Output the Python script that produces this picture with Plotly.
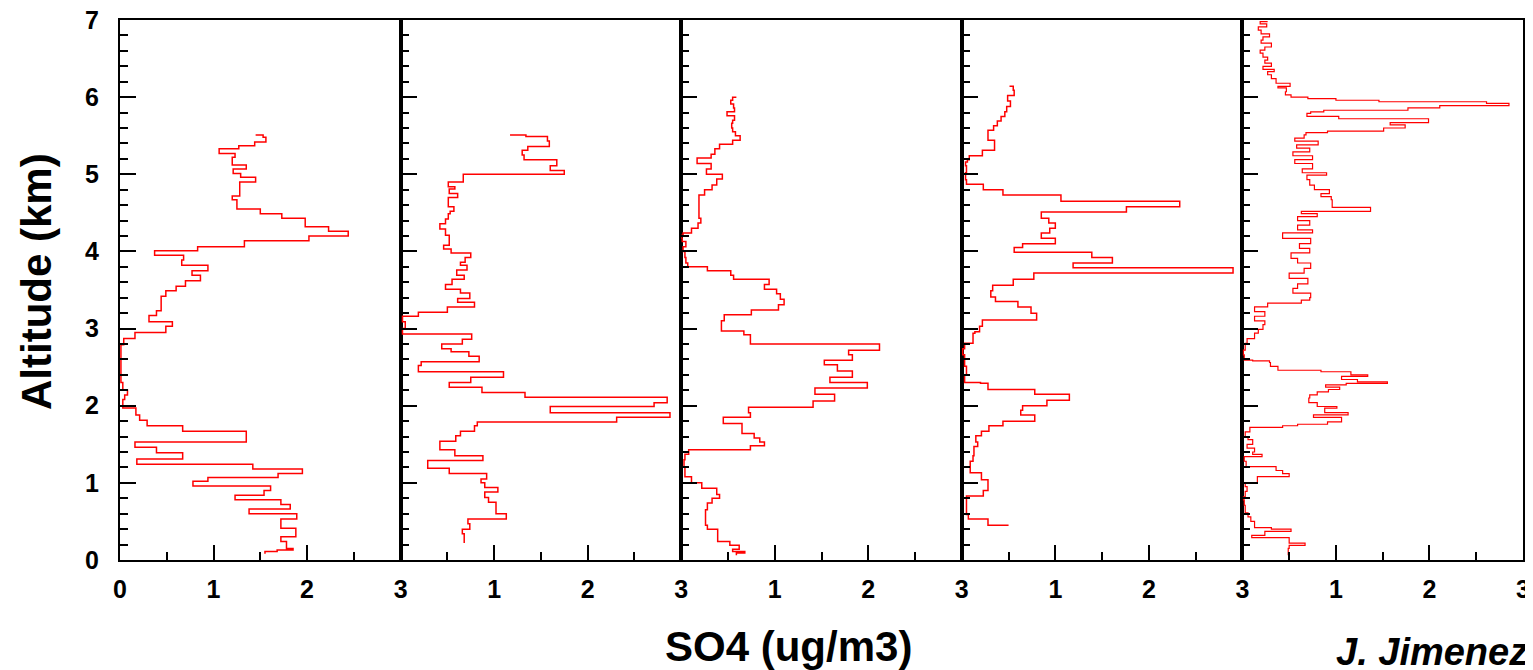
import plotly.graph_objects as go
from plotly.subplots import make_subplots

# SO4 vertical profiles, 5 flights. altitude (km) where each step starts, SO4 (ug/m3)
p1_alt = [0.08, 0.11, 0.13, 0.15, 0.24, 0.30, 0.41, 0.53, 0.60, 0.66, 0.72, 0.78, 0.84, 0.90, 0.96,
          1.02, 1.07, 1.12, 1.18, 1.24, 1.31, 1.39, 1.46, 1.53, 1.67, 1.74, 1.81, 1.88, 1.97, 2.08,
          2.14, 2.20, 2.30, 2.79, 2.87, 2.95, 3.03, 3.09, 3.17, 3.23, 3.42, 3.49, 3.55, 3.62, 3.69,
          3.75, 3.82, 3.89, 3.95, 4.01, 4.06, 4.14, 4.20, 4.26, 4.32, 4.43, 4.49, 4.55, 4.67, 4.72,
          4.84, 4.90, 4.96, 5.01, 5.07, 5.12, 5.22, 5.27, 5.33, 5.37, 5.42, 5.48, 5.51]
p1_so4 = [1.55, 1.68, 1.85, 1.78, 1.72, 1.88, 1.72, 1.89, 1.38, 1.82, 1.72, 1.23, 1.54, 1.61, 0.78,
          0.94, 1.69, 1.95, 1.42, 0.18, 0.67, 0.39, 0.16, 1.35, 0.67, 0.29, 0.21, 0.17, 0.03, 0.05,
          0.08, 0.03, 0.01, 0.04, 0.16, 0.49, 0.56, 0.31, 0.39, 0.44, 0.49, 0.60, 0.70, 0.86, 0.77,
          0.94, 0.66, 0.68, 0.37, 0.83, 1.33, 2.02, 2.44, 2.23, 1.98, 1.73, 1.50, 1.25, 1.20, 1.28,
          1.28, 1.45, 1.29, 1.21, 1.35, 1.20, 1.23, 1.06, 1.27, 1.44, 1.56, 1.53, 1.45]

p2_alt = [0.22, 0.34, 0.40, 0.47, 0.53, 0.60, 0.75, 0.81, 0.88, 0.94, 1.00, 1.05, 1.12, 1.19, 1.29,
          1.35, 1.43, 1.54, 1.61, 1.67, 1.74, 1.79, 1.85, 1.91, 1.99, 2.04, 2.11, 2.17, 2.24, 2.30,
          2.37, 2.44, 2.52, 2.57, 2.64, 2.70, 2.74, 2.80, 2.86, 2.93, 3.00, 3.09, 3.16, 3.21, 3.28,
          3.34, 3.39, 3.46, 3.51, 3.57, 3.64, 3.69, 3.76, 3.82, 3.86, 3.92, 3.98, 4.03, 4.08, 4.16,
          4.21, 4.29, 4.36, 4.42, 4.49, 4.52, 4.58, 4.65, 4.70, 4.75, 4.81, 4.84, 4.90, 5.00, 5.05,
          5.11, 5.19, 5.25, 5.31, 5.36, 5.43, 5.49, 5.51]
p2_so4 = [0.68, 0.66, 0.74, 0.72, 1.13, 1.02, 0.94, 0.90, 1.04, 0.90, 0.86, 0.92, 0.52, 0.29, 0.88,
          0.58, 0.42, 0.59, 0.64, 0.79, 0.82, 2.31, 2.88, 1.60, 2.71, 2.85, 1.33, 0.87, 0.52, 0.75,
          1.10, 0.19, 0.22, 0.84, 0.73, 0.54, 0.44, 0.66, 0.76, 0.02, 0.05, 0.02, 0.19, 0.50, 0.79,
          0.61, 0.74, 0.64, 0.48, 0.55, 0.68, 0.60, 0.71, 0.64, 0.69, 0.75, 0.54, 0.46, 0.52, 0.52,
          0.48, 0.42, 0.48, 0.51, 0.53, 0.57, 0.51, 0.51, 0.61, 0.52, 0.58, 0.51, 0.67, 1.75, 1.60,
          1.67, 1.32, 1.30, 1.36, 1.59, 1.57, 1.34, 1.17]

p3_alt = [0.06, 0.09, 0.11, 0.14, 0.19, 0.24, 0.40, 0.45, 0.55, 0.65, 0.74, 0.80, 0.85, 0.93, 1.00,
          1.08, 1.21, 1.30, 1.37, 1.43, 1.48, 1.53, 1.58, 1.64, 1.77, 1.85, 1.91, 1.98, 2.06, 2.15,
          2.23, 2.30, 2.37, 2.45, 2.53, 2.59, 2.66, 2.72, 2.80, 2.92, 2.97, 3.10, 3.18, 3.24, 3.31,
          3.38, 3.45, 3.51, 3.57, 3.64, 3.69, 3.75, 3.80, 3.85, 3.92, 4.00, 4.06, 4.13, 4.17, 4.21,
          4.24, 4.30, 4.37, 4.43, 4.73, 4.80, 4.86, 4.94, 5.00, 5.07, 5.14, 5.21, 5.26, 5.33, 5.39,
          5.44, 5.50, 5.55, 5.60, 5.66, 5.70, 5.76, 5.81, 5.86, 5.91, 5.96, 6.00]
p3_so4 = [0.59, 0.68, 0.55, 0.62, 0.52, 0.39, 0.28, 0.26, 0.26, 0.28, 0.33, 0.41, 0.38, 0.22, 0.11,
          0.04, 0.03, 0.04, 0.08, 0.74, 0.89, 0.84, 0.78, 0.65, 0.45, 0.74, 0.72, 1.41, 1.64, 1.43,
          1.99, 1.59, 1.83, 1.67, 1.53, 1.83, 1.79, 2.12, 0.74, 0.67, 0.43, 0.46, 0.75, 1.04, 1.10,
          1.06, 1.02, 0.89, 0.94, 0.56, 0.53, 0.28, 0.07, 0.05, 0.04, 0.02, 0.05, 0.01, 0.00, 0.02,
          0.11, 0.18, 0.21, 0.19, 0.25, 0.33, 0.38, 0.44, 0.27, 0.32, 0.17, 0.32, 0.36, 0.41, 0.55,
          0.63, 0.58, 0.55, 0.54, 0.55, 0.57, 0.49, 0.57, 0.56, 0.53, 0.55, 0.59]

p4_alt = [0.45, 0.45, 0.53, 0.59, 0.81, 0.83, 0.90, 1.04, 1.13, 1.28, 1.35, 1.47, 1.53, 1.61, 1.67,
          1.74, 1.80, 1.88, 1.94, 2.00, 2.07, 2.15, 2.21, 2.29, 2.30, 2.40, 2.51, 2.59, 2.66, 2.74,
          2.81, 2.94, 2.96, 3.03, 3.11, 3.20, 3.28, 3.35, 3.41, 3.49, 3.56, 3.64, 3.72, 3.79, 3.85,
          3.92, 3.99, 4.05, 4.10, 4.17, 4.24, 4.30, 4.37, 4.43, 4.51, 4.58, 4.65, 4.73, 4.80, 4.87,
          4.93, 5.02, 5.11, 5.16, 5.19, 5.24, 5.31, 5.44, 5.51, 5.57, 5.63, 5.69, 5.75, 5.81, 5.88,
          5.95, 6.02, 6.09, 6.14]
p4_so4 = [0.50, 0.28, 0.07, 0.05, 0.05, 0.23, 0.28, 0.21, 0.09, 0.12, 0.13, 0.17, 0.15, 0.21, 0.29,
          0.44, 0.78, 0.63, 0.65, 0.91, 1.15, 0.78, 0.28, 0.20, 0.03, 0.05, 0.03, 0.03, 0.01, 0.03,
          0.12, 0.14, 0.19, 0.22, 0.80, 0.74, 0.60, 0.36, 0.31, 0.33, 0.55, 0.77, 2.90, 1.19, 1.61,
          1.39, 0.56, 0.65, 1.00, 0.85, 0.94, 1.00, 0.93, 0.85, 1.76, 2.33, 1.06, 0.44, 0.23, 0.05,
          0.04, 0.05, 0.04, 0.06, 0.08, 0.22, 0.35, 0.28, 0.28, 0.34, 0.38, 0.42, 0.46, 0.48, 0.52,
          0.49, 0.56, 0.55, 0.51]

p5_alt = [0.06, 0.15, 0.19, 0.22, 0.29, 0.32, 0.37, 0.40, 0.42, 0.50, 0.56, 0.61, 0.71, 0.78, 0.82,
          0.89, 0.95, 1.00, 1.08, 1.12, 1.16, 1.21, 1.28, 1.34, 1.37, 1.40, 1.45, 1.50, 1.56, 1.60,
          1.66, 1.72, 1.74, 1.76, 1.79, 1.85, 1.88, 1.91, 1.97, 1.99, 2.04, 2.10, 2.14, 2.18, 2.21,
          2.24, 2.27, 2.29, 2.31, 2.34, 2.38, 2.40, 2.44, 2.46, 2.51, 2.56, 2.58, 2.59, 2.66, 2.72,
          2.81, 2.87, 2.94, 2.99, 3.05, 3.10, 3.16, 3.22, 3.28, 3.33, 3.37, 3.40, 3.46, 3.52, 3.58,
          3.65, 3.72, 3.78, 3.85, 3.91, 3.98, 4.04, 4.10, 4.17, 4.24, 4.28, 4.34, 4.40, 4.45, 4.49,
          4.52, 4.57, 4.67, 4.71, 4.75, 4.80, 4.86, 4.93, 4.99, 5.02, 5.07, 5.14, 5.19, 5.24, 5.29,
          5.34, 5.38, 5.43, 5.47, 5.51, 5.54, 5.56, 5.60, 5.64, 5.67, 5.72, 5.75, 5.79, 5.81, 5.83,
          5.86, 5.89, 5.92, 5.94, 5.96, 5.98, 6.00, 6.03, 6.07, 6.12, 6.14, 6.18, 6.22, 6.24, 6.29,
          6.33, 6.36, 6.40, 6.44, 6.48, 6.52, 6.57, 6.61, 6.65, 6.70, 6.74, 6.78, 6.82, 6.87, 6.91,
          6.95, 6.98]
p5_so4 = [0.49, 0.50, 0.67, 0.50, 0.10, 0.24, 0.52, 0.31, 0.13, 0.09, 0.06, 0.03, 0.02, 0.01, 0.03,
          0.05, 0.03, 0.16, 0.50, 0.43, 0.36, 0.04, 0.02, 0.21, 0.11, 0.13, 0.05, 0.11, 0.06, 0.03,
          0.08, 0.43, 0.59, 0.91, 1.06, 0.76, 1.13, 0.88, 1.01, 0.80, 0.71, 0.72, 0.80, 0.92, 1.04,
          0.89, 1.11, 1.55, 1.23, 1.06, 1.34, 1.16, 0.84, 0.38, 0.30, 0.29, 0.11, 0.02, 0.01, 0.03,
          0.05, 0.13, 0.17, 0.22, 0.24, 0.13, 0.24, 0.13, 0.27, 0.63, 0.72, 0.73, 0.54, 0.59, 0.70,
          0.50, 0.66, 0.73, 0.59, 0.52, 0.72, 0.61, 0.73, 0.43, 0.75, 0.59, 0.72, 0.59, 0.80, 0.63,
          1.37, 0.96, 0.95, 0.84, 0.93, 0.77, 0.72, 0.69, 0.90, 0.64, 0.75, 0.56, 0.75, 0.54, 0.72,
          0.58, 0.81, 0.56, 0.66, 0.68, 0.91, 1.51, 1.74, 1.58, 1.99, 1.03, 0.69, 0.73, 0.87, 1.77,
          2.11, 2.85, 2.61, 1.46, 1.00, 0.70, 0.52, 0.46, 0.47, 0.38, 0.51, 0.36, 0.36, 0.31, 0.27,
          0.34, 0.22, 0.31, 0.24, 0.27, 0.22, 0.19, 0.24, 0.31, 0.20, 0.22, 0.29, 0.20, 0.17, 0.26,
          0.19, 0.27]

profiles = [(p1_alt, p1_so4), (p2_alt, p2_so4), (p3_alt, p3_so4), (p4_alt, p4_so4), (p5_alt, p5_so4)]

x_ticks = [0, 1, 2, 3]
x_ticktext_first = ["0", "1", "2", "3"]
x_ticktext_rest = ["", "1", "2", "3"]

FONT = "Liberation Sans, Arial, sans-serif"

# page body adds an 8px margin, so the figure is a bit smaller and shifted
OFF = 8
W, H = 1533 - OFF, 670 - OFF
ML, MR, MT, MB = 120 - OFF, 10, 20 - OFF, 110
PW, PH = W - ML - MR, H - MT - MB


def px_to_paper(x, y):
    # x, y: pixel position in the final screenshot
    return (x - OFF - ML) / PW, (H - MB - (y - OFF)) / PH


fig = make_subplots(rows=1, cols=5, shared_yaxes=True, horizontal_spacing=0)

for i, (alt, so4) in enumerate(profiles):
    fig.add_trace(go.Scatter(x=so4, y=alt, mode="lines",
                             line=dict(color="#ff0000", width=1.2 if i == 4 else 1.5, shape="vh"),
                             showlegend=False, hoverinfo="skip"),
                  row=1, col=i + 1)

for i in range(5):
    fig.update_xaxes(range=[0, 3], tickmode="array", tickvals=x_ticks,
                     ticktext=x_ticktext_first if i == 0 else x_ticktext_rest,
                     ticks="inside", ticklen=15, tickwidth=2, tickcolor="black",
                     minor=dict(tickmode="array", tickvals=[0.5, 1.5, 2.5], ticks="inside",
                                ticklen=8, tickwidth=1.5, tickcolor="black"),
                     showline=True, linewidth=2, linecolor="black", mirror=True,
                     showgrid=False, zeroline=False, ticklabelstandoff=6, automargin=False,
                     ticklabeloverflow="allow",
                     tickfont=dict(family=FONT, size=25, color="black", weight="bold"),
                     row=1, col=i + 1)
    fig.update_yaxes(range=[0, 7], tickmode="array", tickvals=[0, 1, 2, 3, 4, 5, 6, 7],
                     ticks="inside", ticklen=16, tickwidth=2, tickcolor="black",
                     minor=dict(dtick=0.2, ticks="inside", ticklen=8, tickwidth=1.5, tickcolor="black"),
                     showline=True, linewidth=2, linecolor="black", mirror=True,
                     showgrid=False, zeroline=False, ticklabelstandoff=14, automargin=False,
                     ticklabeloverflow="allow",
                     tickfont=dict(family=FONT, size=25, color="black", weight="bold"),
                     row=1, col=i + 1)

ax, ay = px_to_paper(788, 646)
fig.add_annotation(text="SO4 (ug/m3)", x=ax, y=ay, xref="paper", yref="paper",
                   xanchor="center", yanchor="middle", showarrow=False,
                   font=dict(family=FONT, size=42, color="black", weight="bold"))

ax, ay = px_to_paper(36, 282)
fig.add_annotation(text="Altitude (km)", x=ax, y=ay, xref="paper", yref="paper",
                   xanchor="center", yanchor="middle", textangle=-90, showarrow=False,
                   font=dict(family=FONT, size=42, color="black", weight="bold"))

ax, ay = px_to_paper(1530, 652)
fig.add_annotation(text="J. Jimenez", x=ax, y=ay, xref="paper", yref="paper",
                   xanchor="right", yanchor="middle", showarrow=False,
                   font=dict(family=FONT, size=38, color="black", weight="bold", style="italic"))

fig.update_layout(width=W, height=H, margin=dict(l=ML, r=MR, t=MT, b=MB, autoexpand=False),
                  plot_bgcolor="white", paper_bgcolor="white")

fig.write_html("out.html")
